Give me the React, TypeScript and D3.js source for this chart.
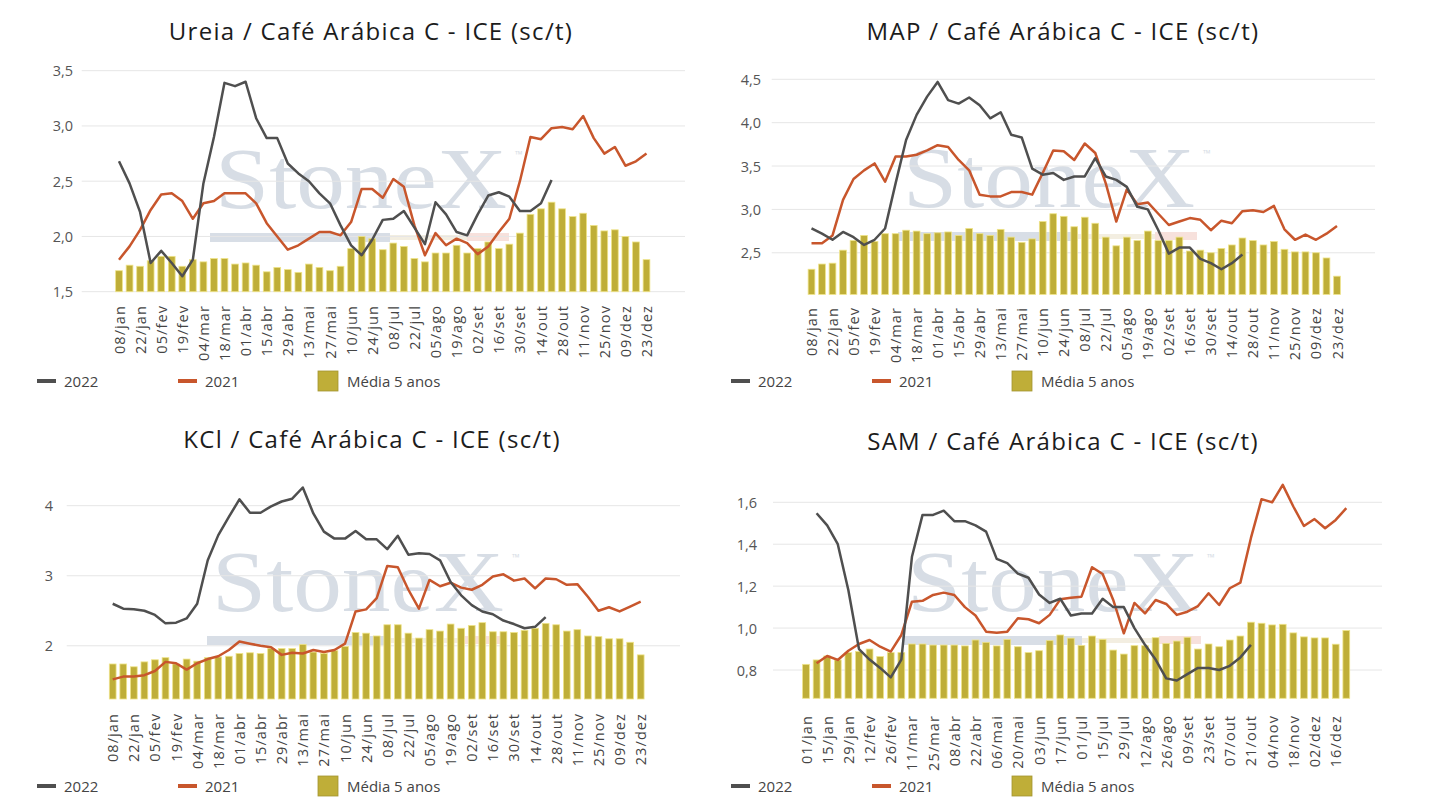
import React from "react";
import * as d3 from "d3";

// ---------- tick labels ----------
const labelsJan08 = ["08/jan","22/jan","05/fev","19/fev","04/mar","18/mar","01/abr","15/abr","29/abr","13/mai","27/mai","10/jun","24/jun","08/jul","22/jul","05/ago","19/ago","02/set","16/set","30/set","14/out","28/out","11/nov","25/nov","09/dez","23/dez"];
const labelsJan01 = ["01/jan","15/jan","29/jan","12/fev","26/fev","11/mar","25/mar","08/abr","22/abr","06/mai","20/mai","03/jun","17/jun","01/jul","15/jul","29/jul","12/ago","26/ago","09/set","23/set","07/out","21/out","04/nov","18/nov","02/dez","16/dez"];

// ---------- Ureia ----------
const ureiaMedia5 = [1.69,1.74,1.73,1.78,1.82,1.82,1.73,1.79,1.77,1.80,1.80,1.75,1.76,1.74,1.68,1.72,1.70,1.675,1.75,1.72,1.69,1.73,1.89,2.0,1.98,1.88,1.94,1.91,1.80,1.77,1.85,1.85,1.92,1.85,1.89,1.95,1.89,1.93,2.03,2.20,2.25,2.31,2.25,2.18,2.21,2.10,2.05,2.06,2.0,1.95,1.79];
const ureia2022 = [2.68,2.48,2.22,1.76,1.87,1.76,1.64,1.79,2.48,2.90,3.39,3.36,3.40,3.07,2.89,2.89,2.66,2.57,2.50,2.39,2.30,2.10,1.92,1.83,1.97,2.15,2.16,2.23,2.08,1.93,2.31,2.20,2.04,2.01,2.20,2.37,2.40,2.36,2.23,2.23,2.30,2.51];
const ureia2021 = [1.79,1.91,2.06,2.24,2.38,2.39,2.32,2.16,2.30,2.32,2.39,2.39,2.39,2.30,2.12,2.00,1.88,1.92,1.98,2.04,2.04,2.01,2.13,2.43,2.43,2.35,2.52,2.45,2.10,1.83,2.03,1.92,1.98,1.94,1.84,1.91,2.04,2.16,2.50,2.90,2.88,2.98,2.99,2.97,3.09,2.89,2.75,2.81,2.64,2.68,2.75];

// ---------- MAP ----------
const mapMedia5 = [2.31,2.37,2.38,2.53,2.64,2.70,2.63,2.72,2.72,2.76,2.75,2.72,2.73,2.74,2.70,2.78,2.72,2.70,2.77,2.68,2.62,2.66,2.86,2.95,2.92,2.80,2.91,2.84,2.68,2.58,2.68,2.64,2.75,2.64,2.64,2.68,2.52,2.53,2.50,2.55,2.59,2.67,2.64,2.59,2.63,2.54,2.51,2.51,2.50,2.44,2.23];
const map2022 = [2.78,2.72,2.65,2.74,2.68,2.59,2.65,2.78,3.30,3.80,4.09,4.30,4.47,4.26,4.22,4.29,4.20,4.05,4.12,3.86,3.83,3.47,3.40,3.42,3.34,3.38,3.38,3.59,3.38,3.34,3.26,3.03,3.00,2.76,2.49,2.56,2.56,2.43,2.38,2.31,2.38,2.48];
const map2021 = [2.61,2.61,2.70,3.11,3.35,3.45,3.53,3.32,3.61,3.61,3.63,3.68,3.74,3.72,3.57,3.45,3.17,3.15,3.15,3.20,3.20,3.17,3.42,3.68,3.67,3.57,3.76,3.65,3.30,2.86,3.23,3.06,3.08,2.95,2.82,2.86,2.90,2.88,2.76,2.87,2.84,2.98,2.99,2.97,3.04,2.77,2.65,2.71,2.65,2.72,2.81];

// ---------- KCl ----------
const kclMedia5 = [1.74,1.74,1.70,1.77,1.80,1.83,1.74,1.81,1.78,1.83,1.84,1.85,1.89,1.90,1.89,1.96,1.96,1.96,2.02,1.91,1.89,1.93,1.99,2.19,2.18,2.14,2.30,2.30,2.18,2.11,2.23,2.21,2.31,2.25,2.29,2.33,2.20,2.20,2.19,2.22,2.25,2.32,2.30,2.21,2.23,2.14,2.13,2.10,2.10,2.05,1.87];
const kcl2022 = [2.60,2.53,2.52,2.50,2.44,2.32,2.33,2.39,2.60,3.22,3.58,3.84,4.09,3.90,3.90,3.99,4.06,4.10,4.26,3.89,3.63,3.53,3.53,3.64,3.52,3.52,3.38,3.57,3.30,3.32,3.31,3.22,2.91,2.72,2.58,2.49,2.45,2.36,2.31,2.25,2.27,2.41];
const kcl2021 = [1.52,1.56,1.56,1.58,1.64,1.77,1.75,1.66,1.75,1.81,1.85,1.94,2.06,2.03,2.00,1.98,1.87,1.90,1.89,1.94,1.91,1.94,2.03,2.49,2.52,2.68,3.14,3.12,2.80,2.53,2.94,2.85,2.90,2.83,2.80,2.87,2.99,3.02,2.93,2.96,2.82,2.96,2.95,2.87,2.88,2.70,2.50,2.55,2.49,2.56,2.63];

// ---------- SAM ----------
const samMedia5 = [0.827,0.848,0.867,0.848,0.883,0.888,0.90,0.864,0.883,0.883,0.924,0.924,0.919,0.919,0.919,0.915,0.943,0.932,0.915,0.946,0.911,0.883,0.892,0.94,0.967,0.952,0.917,0.962,0.946,0.895,0.876,0.916,0.916,0.954,0.927,0.938,0.956,0.90,0.924,0.911,0.943,0.962,1.028,1.023,1.015,1.018,0.977,0.958,0.953,0.953,0.923,0.988];
const sam2022 = [1.548,1.49,1.40,1.18,0.90,0.85,0.81,0.765,0.85,1.34,1.54,1.54,1.56,1.51,1.51,1.49,1.46,1.33,1.31,1.26,1.24,1.16,1.12,1.14,1.06,1.07,1.07,1.14,1.10,1.10,1.00,0.92,0.85,0.76,0.75,0.78,0.81,0.81,0.80,0.82,0.86,0.92];
const sam2021 = [0.832,0.867,0.848,0.892,0.924,0.943,0.911,0.888,0.967,1.126,1.13,1.158,1.169,1.158,1.10,1.06,0.983,0.978,0.983,1.047,1.042,1.023,1.063,1.137,1.145,1.15,1.29,1.258,1.134,0.975,1.12,1.07,1.134,1.115,1.063,1.078,1.105,1.166,1.11,1.19,1.217,1.43,1.615,1.60,1.683,1.58,1.487,1.52,1.476,1.516,1.572];

const ureiaTicks = [1.5, 2.0, 2.5, 3.0, 3.5];
const mapTicks = [2.5, 3.0, 3.5, 4.0, 4.5];
const kclTicks = [2, 3, 4];
const samTicks = [0.8, 1.0, 1.2, 1.4, 1.6];

const legendNames = ["2022", "2021", "Média 5 anos"];

const C2022 = "#4f4f4f";
const C2021 = "#c8562c";
const CBAR = "#bfae38";
const CBAR_EDGE = "#efe489";
const FONT = "'Open Sans', 'Noto Sans', sans-serif";

const panels = [
  {
    title: "Ureia / Café Arábica C - ICE (sc/t)",
    bars: ureiaMedia5, s22: ureia2022, s21: ureia2021, start22: 0, start21: 0,
    labels: labelsJan08, ticks: ureiaTicks, dec: 1,
    yDomain: [1.5, 3.5], yRange: [291.7, 70.7],
    xFirst: 119, xLast: 646.5, gridX0: 81.7, gridX1: 685, tickX: 73, labelTop: 305,
    titleX: 371, titleY: 30, legendX: 37, legendY: 381, wmX: 215, wmY: 208,
  },
  {
    title: "MAP / Café Arábica C - ICE (sc/t)",
    bars: mapMedia5, s22: map2022, s21: map2021, start22: 0, start21: 0,
    labels: labelsJan08, ticks: mapTicks, dec: 1,
    yDomain: [2.02, 4.5], yRange: [294.4, 79.3],
    xFirst: 811.5, xLast: 1337, gridX0: 771.7, gridX1: 1375, tickX: 761, labelTop: 307,
    titleX: 1063, titleY: 30, legendX: 731, legendY: 381, wmX: 903, wmY: 207,
  },
  {
    title: "KCl / Café Arábica C - ICE (sc/t)",
    bars: kclMedia5, s22: kcl2022, s21: kcl2021, start22: 0, start21: 0,
    labels: labelsJan08, ticks: kclTicks, dec: 0,
    yDomain: [1.24, 4], yRange: [699, 505.7],
    xFirst: 112.7, xLast: 640.7, gridX0: 66.7, gridX1: 680, tickX: 53, labelTop: 713,
    titleX: 372, titleY: 438, legendX: 37, legendY: 786, wmX: 212, wmY: 611,
  },
  {
    title: "SAM / Café Arábica C - ICE (sc/t)",
    bars: samMedia5, s22: sam2022, s21: sam2021, start22: 1, start21: 1,
    labels: labelsJan01, ticks: samTicks, dec: 1,
    yDomain: [0.665, 1.6], yRange: [698.3, 502.3],
    xFirst: 806, xLast: 1346.3, gridX0: 773, gridX1: 1382, tickX: 757, labelTop: 715,
    titleX: 1063, titleY: 440, legendX: 731, legendY: 786, wmX: 907, wmY: 611,
  },
];

function Panel({ p }: { p: any }) {
  const n = p.bars.length;
  const step = (p.xLast - p.xFirst) / (n - 1);
  const x = d3
    .scaleBand<number>()
    .domain(d3.range(n))
    .range([p.xFirst - step / 2, p.xLast + step / 2])
    .paddingInner(0.36)
    .paddingOuter(0.18);
  const cx = (i: number) => (x(i) as number) + x.bandwidth() / 2;
  const y = d3.scaleLinear().domain(p.yDomain).range(p.yRange);
  const fmt = (v: number) => d3.format(p.dec ? ".1f" : ".0f")(v).replace(".", ",");

  const line22 = d3
    .line<number>()
    .x((_, j) => cx(p.start22 + j))
    .y((v) => y(v));
  const line21 = d3
    .line<number>()
    .x((_, j) => cx(p.start21 + j))
    .y((v) => y(v));

  const lx = p.legendX;
  const ly = p.legendY;

  return (
    <g>
      {/* watermark */}
      <g opacity={0.85}>
        <text
          x={p.wmX}
          y={p.wmY}
          fontFamily="'Liberation Serif', 'DejaVu Serif', serif"
          fontSize={86}
          fill="#d1d8e1"
          textLength={292}
          lengthAdjust="spacingAndGlyphs"
        >
          StoneX
        </text>
        <text x={p.wmX + 300} y={p.wmY - 50} fontFamily={FONT} fontSize={10} fill="#d1d8e1">
          ™
        </text>
        <rect x={p.wmX - 5} y={p.wmY + 25} width={180} height={9} fill="#d2d9e2" />
        <rect x={p.wmX + 175} y={p.wmY + 27} width={80} height={5} fill="#f1ecdc" />
        <rect x={p.wmX + 252} y={p.wmY + 25} width={42} height={8} fill="#f6dcd6" />
      </g>

      {/* gridlines */}
      {p.ticks.map((t: number) => (
        <line key={t} x1={p.gridX0} x2={p.gridX1} y1={y(t)} y2={y(t)} stroke="#e6e6e6" strokeWidth={1} />
      ))}
      {p.ticks.map((t: number) => (
        <text
          key={"t" + t}
          x={p.tickX}
          y={y(t)}
          textAnchor="end"
          dominantBaseline="central"
          fontFamily={FONT}
          fontSize={14.5}
          fill="#555"
        >
          {fmt(t)}
        </text>
      ))}

      {/* bars */}
      {p.bars.map((v: number, i: number) => (
        <rect
          key={i}
          x={x(i)}
          y={y(v)}
          width={x.bandwidth()}
          height={y(p.yDomain[0]) - y(v)}
          fill={CBAR}
          stroke={CBAR_EDGE}
          strokeWidth={0.8}
        />
      ))}

      {/* lines */}
      <path d={line21(p.s21) || ""} fill="none" stroke={C2021} strokeWidth={2.5} strokeLinejoin="round" />
      <path d={line22(p.s22) || ""} fill="none" stroke={C2022} strokeWidth={2.5} strokeLinejoin="round" />

      {/* x labels */}
      {p.labels.map((l: string, k: number) => (
        <text
          key={l}
          transform={`translate(${cx(k * 2)},${p.labelTop}) rotate(-90)`}
          textAnchor="end"
          dominantBaseline="central"
          fontFamily={FONT}
          fontSize={14.5}
          letterSpacing={1.1}
          fill="#444"
        >
          {l}
        </text>
      ))}

      {/* title */}
      <text
        x={p.titleX}
        y={p.titleY}
        textAnchor="middle"
        dominantBaseline="central"
        fontFamily={FONT}
        fontSize={24}
        letterSpacing={1.3}
        fill="#1c1c1c"
      >
        {p.title}
      </text>

      {/* legend */}
      <line x1={lx} x2={lx + 19} y1={ly} y2={ly} stroke={C2022} strokeWidth={4} />
      <text x={lx + 27} y={ly} dominantBaseline="central" fontFamily={FONT} fontSize={15} fill="#444">
        {legendNames[0]}
      </text>
      <line x1={lx + 141} x2={lx + 160} y1={ly} y2={ly} stroke={C2021} strokeWidth={4} />
      <text x={lx + 168} y={ly} dominantBaseline="central" fontFamily={FONT} fontSize={15} fill="#444">
        {legendNames[1]}
      </text>
      <rect x={lx + 281} y={ly - 10} width={20} height={20} fill={CBAR} stroke="#a39530" strokeWidth={0.8} />
      <text x={lx + 310} y={ly} dominantBaseline="central" fontFamily={FONT} fontSize={15} fill="#444">
        {legendNames[2]}
      </text>
    </g>
  );
}

export default function App() {
  return (
    <svg
      width={1438}
      height={809}
      style={{ position: "absolute", left: 0, top: 0, background: "#fff" }}
    >
      <rect width={1438} height={809} fill="#fff" />
      {panels.map((p, i) => (
        <Panel key={i} p={p} />
      ))}
    </svg>
  );
}
